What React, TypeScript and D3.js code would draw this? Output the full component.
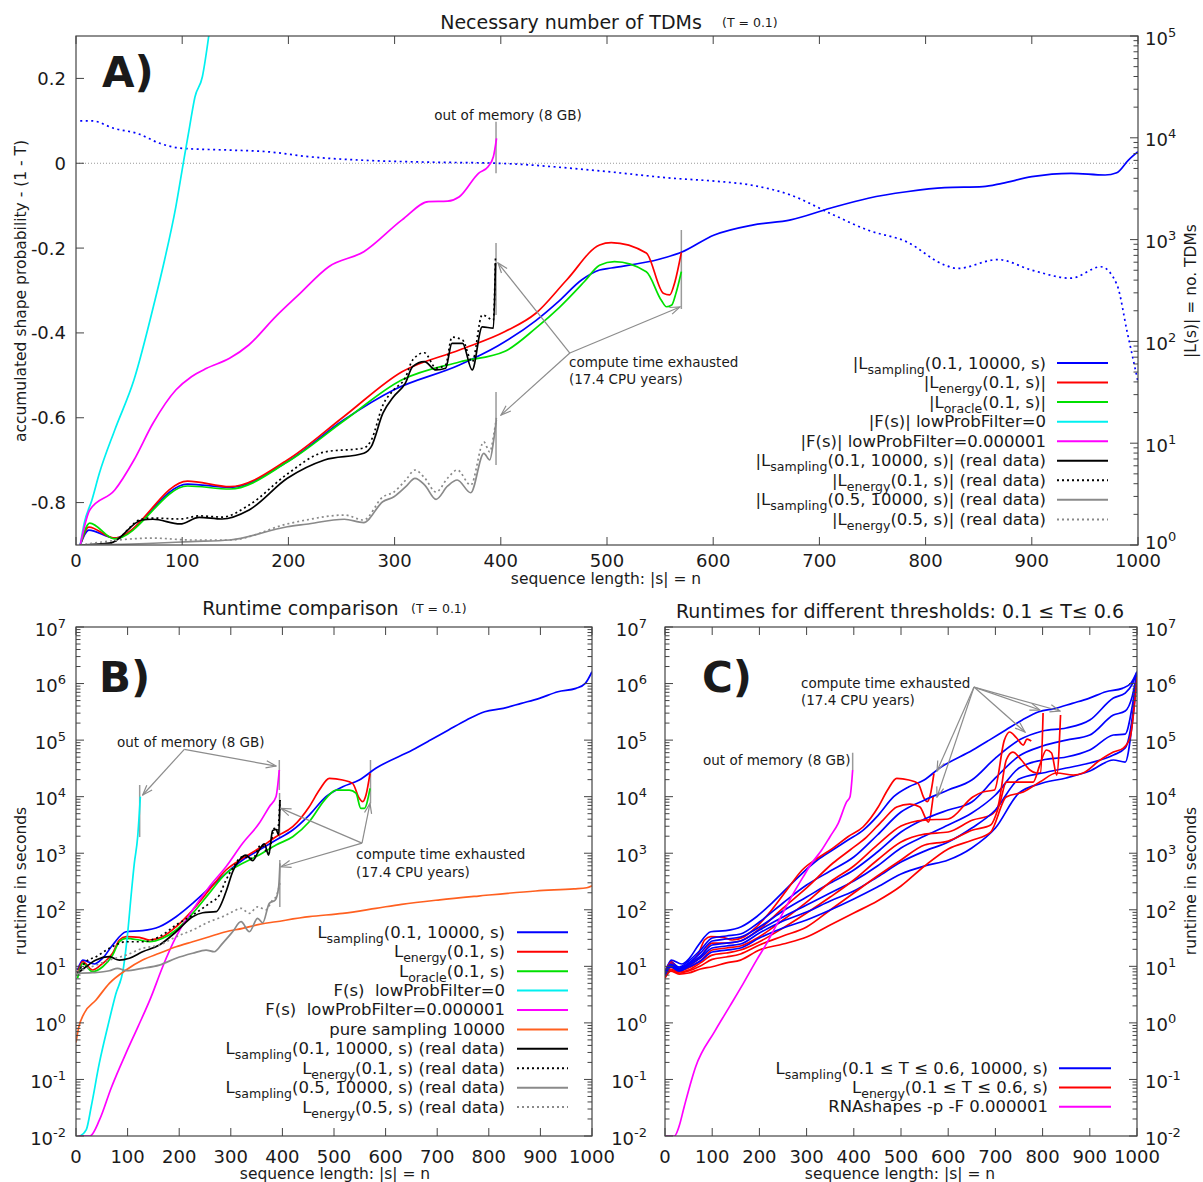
import React, { useEffect, useRef } from "react";
import * as d3 from "d3";

type Pt = [number, number];

// ---------------- A) Necessary number of TDMs (T = 0.1) ----------------
// |L(s)| on the right (log) axis, x = sequence length
const aSampling: Pt[] = [[4, 1], [12, 1.4], [36, 1.17], [105, 3.97], [145, 3.69], [199, 6.58], [252, 16.9], [299, 33.3], [361, 58.6], [397, 90], [433, 160], [455, 250], [476, 401], [493, 503], [504, 526], [550, 645], [570, 750], [601, 1110], [637, 1390], [673, 1560], [710, 2030], [746, 2550], [782, 2950], [818, 3240], [854, 3310], [872, 3570], [900, 4150], [937, 4480], [969, 4310], [980, 4540], [991, 6050], [1000, 7300]];
const aEnergy: Pt[] = [[4, 1], [12, 1.5], [36, 1.17], [105, 4.25], [145, 3.74], [199, 6.84], [252, 18.2], [307, 50.4], [361, 82.3], [404, 125], [433, 189], [462, 401], [493, 885], [504, 933], [537, 738], [553, 297], [559, 286], [564, 386], [570, 750]];
const aOracle: Pt[] = [[4, 1], [13, 1.64], [36, 1.15], [105, 3.8], [145, 3.55], [199, 6.53], [252, 16.5], [307, 41.9], [361, 62.8], [404, 80], [433, 135], [455, 215], [479, 390], [493, 560], [507, 607], [537, 484], [551, 255], [556, 219], [561, 228], [565, 299], [570, 484]];
const aFilter0: Pt[] = [[4, 1], [7.7, 1.63], [15, 2.77], [22, 5.06], [36.5, 13.5], [54.6, 41.9], [74.4, 255], [83.4, 631], [94, 2100], [101, 5620], [107, 12900], [112, 25200], [119, 39800], [125, 100000]];
const aFilterLow: Pt[] = [[4, 1], [13, 2.21], [36.5, 3.47], [54.6, 6.84], [72.5, 15.7], [94, 33.3], [108.7, 45], [123, 54.4], [144.6, 68.2], [162.7, 92.2], [188, 175], [209.5, 286], [238, 542], [271, 760], [307, 1560], [332, 2360], [350, 2390], [361, 2640], [379, 4480], [388, 5200], [393, 6520], [396, 9890]];
const aSamplingReal: Pt[] = [[4, 1], [33, 1.05], [62, 1.76], [72.5, 1.79], [98, 1.61], [116, 1.87], [137.5, 1.8], [163, 2.21], [199, 4.52], [234, 6.84], [271, 7.96], [278, 9.25], [289, 19.7], [299, 28.6], [310, 38.7], [317, 56.4], [328, 63.2], [339, 52.4], [348, 54.4], [354, 95.7], [364, 95.7], [373, 52.4], [382.5, 139], [393, 135], [395, 589]];
const aEnergyReal: Pt[] = [[4, 1], [33, 1.05], [62, 1.8], [72.5, 1.84], [98, 1.8], [116, 1.93], [137.5, 1.88], [163, 2.47], [199, 4.98], [234, 8.2], [271, 8.97], [278, 10.7], [289, 23.7], [299, 33.3], [310, 43.7], [317, 65.6], [328, 77.4], [339, 54.8], [348, 58.6], [354, 110], [364, 103], [373, 62.8], [382.5, 182], [393, 162], [395, 675]];
const aSampling05Real: Pt[] = [[4, 1], [72.5, 1.04], [108, 1.08], [144.6, 1.12], [199, 1.51], [216.6, 1.6], [252.7, 1.79], [270.8, 1.66], [288.8, 2.66], [299.4, 2.98], [310.5, 3.74], [319.2, 4.52], [328.4, 3.88], [339, 2.81], [350, 3.8], [359, 4.35], [371.7, 3.26], [384, 7.96], [389.6, 6.84], [393.3, 10.7], [395.8, 16.9]];
const aEnergy05Real: Pt[] = [[4, 1], [72.5, 1.17], [108, 1.12], [144.6, 1.12], [199, 1.61], [216.6, 1.76], [252.7, 1.97], [270.8, 1.76], [288.8, 2.96], [299.4, 3.32], [310.5, 4.35], [319.2, 5.45], [328.4, 4.55], [339, 3.32], [350, 4.55], [359, 5.45], [371.7, 3.88], [384, 10.3], [389.6, 8.2], [393.3, 12.0], [395.8, 17.7]];
// accumulated shape probability - (1 - T), left axis
const aProbability: Pt[] = [[4, 0.1], [15, 0.1], [36, 0.082], [58, 0.07], [80, 0.046], [101, 0.035], [145, 0.031], [181, 0.027], [217, 0.016], [271, 0.007], [325, 0.003], [397, 0], [493, -0.018], [565, -0.036], [601, -0.042], [637, -0.052], [673, -0.075], [710, -0.118], [746, -0.158], [782, -0.185], [818, -0.24], [830, -0.248], [868, -0.227], [900, -0.252], [937, -0.271], [965, -0.244], [980, -0.285], [990, -0.4], [1000, -0.515]];

// ---------------- B) Runtime comparison (T = 0.1), seconds ----------------
const bSampling: Pt[] = [[3, 8.61], [13, 12.9], [35.5, 11.0], [51.7, 13.9], [71, 23.8], [97, 40.9], [129, 42.7], [161.5, 50.1], [194, 75.4], [226, 130], [258, 239], [290.7, 442], [323, 759], [355, 1140], [387.6, 1710], [420, 2570], [452, 4730], [484.5, 10000], [516.8, 15000], [549, 19700], [581, 31700], [652, 66800], [687, 100000], [722, 151000], [757, 227000], [792, 318000], [828, 365000], [863, 447000], [898, 548000], [934, 717000], [969, 822000], [987, 1010000], [1000, 1620000]];
const bEnergy: Pt[] = [[3, 7.53], [13, 12.1], [32, 8.61], [51.7, 11.3], [71, 17.0], [84, 29.2], [97, 33.4], [122.7, 32.6], [142, 29.2], [168, 33.4], [194, 50.1], [226, 99.1], [258, 223], [290.7, 505], [323, 813], [355, 1220], [387.6, 1960], [420, 2940], [452, 6640], [471.6, 13100], [491, 21100], [516.8, 19700], [536, 17200], [549, 9350], [555.6, 8150], [562, 10700], [569.8, 25900]];
const bOracle: Pt[] = [[3, 6.14], [13, 11.3], [32, 8.04], [51.7, 9.84], [71, 15.8], [84, 27.2], [97, 31.3], [122.7, 29.2], [142, 27.2], [168, 31.3], [194, 43.9], [226, 86.5], [258, 195], [290.7, 442], [323, 662], [355, 929], [387.6, 1400], [420, 1960], [452, 3610], [484.5, 9350], [504, 13100], [529.7, 13100], [542.6, 11500], [552, 6220], [558.8, 6220], [569.8, 14000]];
const bFilter0: Pt[] = [[8, 0.01], [20, 0.013], [30, 0.035], [45, 0.19], [62, 0.9], [77, 3.2], [92, 9.5], [100, 38], [106.6, 170], [113, 660], [119.5, 1950], [122.7, 5070], [124.7, 10000]];
const bFilterLow: Pt[] = [[4.8, 0.01], [27, 0.01], [45.5, 0.0192], [68, 0.07], [97.5, 0.3], [120, 0.85], [145, 2.8], [168, 9.84], [194, 33.4], [226, 99], [258.4, 256], [290.7, 578], [323, 1500], [355, 3380], [374.7, 6650], [387.6, 10000], [394, 29600]];
const bPureSampling: Pt[] = [[0, 0.45], [4.8, 0.8], [15.9, 1.48], [38.8, 2.54], [64.6, 5.01], [97, 8.61], [129, 12.9], [161.5, 17.0], [194, 22.2], [226, 27.2], [258.4, 33.4], [290.7, 40.9], [323, 47], [355, 55.3], [387.6, 61.5], [452, 75.4], [516.8, 86.5], [581, 106], [631, 125], [705, 150], [780, 175], [891, 215], [965, 235], [990, 245], [1000, 265]];
const bSamplingReal: Pt[] = [[3, 7.53], [19.4, 9.84], [38.8, 12.9], [64.6, 14.8], [84, 12.9], [103.4, 13.9], [129, 18.1], [161.5, 23.8], [194, 40.9], [226, 75.4], [245.5, 88.7], [271.3, 92.5], [290.7, 208], [303.6, 471], [316.5, 759], [329.5, 929], [342.4, 737], [355, 1140], [365, 1460], [373.4, 929], [381, 2500], [387.6, 2650], [392.8, 2100], [395.3, 8730]];
const bEnergyReal: Pt[] = [[3, 7.6], [19.4, 12.1], [38.8, 14.8], [64.6, 20.8], [97, 27.2], [129, 27.2], [161.5, 33.4], [194, 53.8], [226, 80.7], [258.4, 130], [277.8, 182], [290.7, 336], [303.6, 541], [323, 867], [342.4, 813], [358.5, 1400], [373.4, 995], [384.4, 2760], [390.8, 2500], [395.3, 8730]];
const bSampling05Real: Pt[] = [[3, 7.53], [32, 7.71], [64.6, 8.37], [80.7, 9.23], [97, 8.37], [129, 9.23], [161.5, 10.5], [194, 13.9], [226, 17.0], [252, 19.4], [268, 18.1], [284, 25.5], [303.6, 40.9], [319.8, 61.5], [336, 40.9], [352, 70.6], [361.8, 59], [374.7, 130], [386.3, 149], [392.8, 256], [395.3, 662]];
const bEnergy05Real: Pt[] = [[3, 8.04], [38.8, 10.5], [64.6, 12.9], [97, 15.8], [129, 20.8], [161.5, 23.8], [194, 33.4], [226, 43.9], [258.4, 61.5], [284, 75.4], [303.6, 92.5], [319.8, 106], [336, 86.5], [352, 113], [368, 100], [381, 149], [387.6, 170], [395.3, 294]];

// ---------------- C) Runtimes for 0.1 <= T <= 0.6 ----------------
// T = 0.1 curves are the same runs as in B (bSampling, bEnergy)
const cX = [0, 12, 30, 50, 75, 100, 130, 160, 200, 250, 300, 350, 400, 450, 500, 550, 600, 650, 700, 750, 800, 850, 900, 950, 975, 990, 1000];
const cSampling02 = [7.94, 11.9, 9.73, 12.4, 19.4, 31.7, 34.4, 37.3, 60.8, 132, 274, 484, 857, 2100, 5350, 8730, 13100, 19700, 48200, 100000, 145000, 164000, 226000, 555000, 680000, 980000, 1600000];
const cSampling03 = [7.62, 11.0, 9.33, 11.5, 17.2, 28.1, 30.4, 33, 49.6, 95, 168, 297, 505, 1050, 2370, 4030, 5810, 8040, 21400, 52300, 78500, 100000, 123000, 277000, 327000, 600000, 1550000];
const cSampling04 = [7.31, 10.5, 8.97, 11.0, 15.2, 23.8, 25.8, 28.1, 43.9, 74.5, 121, 198, 323, 594, 1240, 2010, 3150, 5140, 10700, 32100, 44500, 50200, 66800, 123000, 128000, 400000, 1500000];
const cSampling05 = [7.03, 10.1, 8.61, 10.5, 14.0, 21.1, 22.9, 24.8, 38.8, 63.2, 91.2, 143, 215, 380, 698, 1090, 1580, 2790, 5810, 20500, 26200, 32100, 39400, 54500, 72400, 250000, 1450000];
const cSampling06 = [6.75, 9.73, 8.26, 9.73, 12.4, 17.9, 19.4, 21.1, 31.7, 47.6, 65.9, 99, 155, 252, 429, 594, 759, 1240, 2790, 11600, 17400, 21400, 28400, 44500, 40900, 200000, 1400000];
const cEnergy02: Pt[] = [[0, 7.31], [12, 11.5], [30, 8.61], [50, 10.1], [75, 14.6], [100, 25.8], [130, 25.8], [160, 28.1], [200, 45.7], [250, 107], [300, 243], [356, 671], [392, 1140], [427, 1930], [462, 3860], [491, 6560], [519, 7410], [540, 6560], [558, 3560], [568, 9860]];
const cEnergy03: Pt[] = [[0, 7.03], [12, 9.73], [30, 8.26], [50, 9.33], [75, 12.4], [100, 19.4], [130, 21.1], [160, 22.9], [200, 33.4], [250, 65.9], [300, 137], [350, 310], [400, 594], [450, 1400], [500, 3030], [550, 3860], [600, 4030], [652, 9860], [673, 12100], [698, 13100], [719, 100000], [730, 139000], [745, 109000], [759, 81800], [767, 104000], [776, 96300]];
const cEnergy04: Pt[] = [[0, 6.75], [12, 8.97], [30, 7.94], [50, 8.61], [75, 11.5], [100, 15.8], [130, 17.2], [160, 19.4], [200, 27.2], [250, 47.6], [300, 87.7], [350, 168], [400, 336], [450, 759], [500, 1580], [550, 2180], [600, 2370], [652, 3860], [690, 4730], [705, 6560], [723, 44500], [737, 61500], [755, 44500], [773, 29600], [787, 26200], [796, 26200], [801, 301000]];
const cEnergy05: Pt[] = [[0, 6.47], [12, 8.61], [30, 7.62], [50, 8.26], [75, 10.1], [100, 13.3], [130, 14.6], [160, 16.5], [200, 23.8], [250, 34.4], [300, 49.6], [350, 99], [400, 198], [450, 395], [500, 759], [550, 1400], [600, 1640], [652, 2570], [690, 3150], [710, 8000], [723, 18100], [759, 18100], [780, 18100], [794, 36200], [808, 66800], [819, 59100], [830, 24100], [838, 277000]];
const cEnergy06: Pt[] = [[0, 6.22], [12, 8.26], [30, 7.31], [50, 7.62], [75, 8.97], [100, 9.84], [130, 11.5], [160, 12.9], [200, 19.4], [250, 24.8], [300, 33], [350, 53.8], [400, 87.7], [450, 143], [500, 263], [550, 594], [600, 1190], [652, 1710], [690, 2370], [723, 9860], [759, 12100], [794, 18100], [830, 26200], [865, 24100], [886, 26200], [922, 44500], [950, 61500], [971, 72400], [985, 109000], [1000, 1300000]];
const cShapes: Pt[] = [[0, 0.01], [20, 0.01], [30, 0.015], [40.7, 0.033], [65, 0.168], [105, 0.7], [137.7, 2.0], [166, 5.0], [194, 12.9], [215.5, 25.5], [243.6, 70.6], [272, 195], [293, 385], [310, 650], [332, 1140], [349.6, 1960], [367, 3380], [385, 8150], [392, 10000], [397.6, 29600]];

// ---------------- ticks, legends, annotations ----------------
const lengthTicks = [0, 100, 200, 300, 400, 500, 600, 700, 800, 900, 1000];
const probTicks = [-0.8, -0.6, -0.4, -0.2, 0, 0.2];
const probLabels = ["-0.8", "-0.6", "-0.4", "-0.2", "0", "0.2"];
const countDecades = [0, 1, 2, 3, 4, 5];
const timeDecades = [-2, -1, 0, 1, 2, 3, 4, 5, 6, 7];

const legendA = ["|L_{sampling}(0.1, 10000, s)", "|L_{energy}(0.1, s)|", "|L_{oracle}(0.1, s)|", "|F(s)| lowProbFilter=0", "|F(s)| lowProbFilter=0.000001", "|L_{sampling}(0.1, 10000, s)| (real data)", "|L_{energy}(0.1, s)| (real data)", "|L_{sampling}(0.5, 10000, s)| (real data)", "|L_{energy}(0.5, s)| (real data)"];
const legendB = ["L_{sampling}(0.1, 10000, s)", "L_{energy}(0.1, s)", "L_{oracle}(0.1, s)", "F(s)  lowProbFilter=0", "F(s)  lowProbFilter=0.000001", "pure sampling 10000", "L_{sampling}(0.1, 10000, s) (real data)", "L_{energy}(0.1, s) (real data)", "L_{sampling}(0.5, 10000, s) (real data)", "L_{energy}(0.5, s) (real data)"];
const legendC = ["L_{sampling}(0.1 ≤ T ≤ 0.6, 10000, s)", "L_{energy}(0.1 ≤ T ≤ 0.6, s)", "RNAshapes -p -F 0.000001"];

// gray end markers [x, low, high] and arrows (data coordinates)
const aMarks: [number, number, number][] = [[395.5, 4480, 14400], [395.5, 182, 926], [395.5, 6.1, 31.8], [570, 208, 1243]];
const aTimeFrom: Pt = [465, 76.9];
const aTimeTo: Pt[] = [[397.4, 589], [400.2, 18.9], [568.7, 218]];
const bMarks: [number, number, number][] = [[123.4, 1930, 16100], [394, 13100, 44500], [394.5, 1860, 11600], [395, 112, 759], [570.7, 7620, 44500]];
const bMemFrom: Pt = [209.9, 68700];
const bMemTo: Pt[] = [[129.3, 10700], [387.6, 34800]];
const bTimeFrom: Pt = [554.3, 1510];
const bTimeTo: Pt[] = [[397.3, 6220], [397.3, 577], [569.8, 7620]];
const cMarks: [number, number, number][] = [[397.6, 29600, 59800]];
const cTimeFrom: Pt = [654.7, 867000];
const cTimeTo: Pt[] = [[576.3, 28400], [576.3, 9860], [762.7, 139000], [794.5, 340000], [836.9, 327000]];

const FONT = "DejaVu Sans, sans-serif";
const INK = "#1a1a1a";
const FRAME = "#444";
const BLUE = "#0000ff", RED = "#ff0000", GREEN = "#00e000", CYAN = "#00f0f0", MAGENTA = "#ff00ff";
const ORANGE = "#ff6020", BLACK = "#000000", GRAY = "#8a8a8a", NOTE = "#8c8c8c";
const DOTS = "2,3";
const LW = 1.7;

const zip = (xs: number[], ys: number[]): Pt[] => xs.map((x, i) => [x, ys[i]] as Pt);

export default function App() {
  const ref = useRef<SVGSVGElement>(null);

  useEffect(() => {
    document.body.style.margin = "0";
    const svg = d3.select(ref.current);
    svg.selectAll("*").remove();

    const defs = svg.append("defs");
    defs.append("marker").attr("id", "ah").attr("viewBox", "-11 -5 12 10")
      .attr("refX", 0).attr("refY", 0).attr("markerWidth", 12).attr("markerHeight", 10)
      .attr("markerUnits", "userSpaceOnUse").attr("orient", "auto")
      .append("path").attr("d", "M-10,-3.6 L0,0 L-10,3.6").attr("fill", "none")
      .attr("stroke", NOTE).attr("stroke-width", 1.2);

    const text = (g: any, x: number, y: number, s: string, size: number, anchor = "start") =>
      g.append("text").attr("x", x).attr("y", y).attr("font-family", FONT).attr("font-size", size)
        .attr("fill", INK).attr("text-anchor", anchor).style("white-space", "pre").text(s);

    const rich = (g: any, x: number, y: number, s: string, size: number, anchor: string) => {
      const t = g.append("text").attr("x", x).attr("y", y).attr("font-family", FONT).attr("font-size", size)
        .attr("fill", INK).attr("text-anchor", anchor).style("white-space", "pre");
      let down = false;
      s.split(/(_\{[^}]*\})/).forEach(part => {
        if (!part) return;
        if (part.startsWith("_{")) {
          t.append("tspan").attr("dy", 5).attr("font-size", size * 0.76).text(part.slice(2, -1));
          down = true;
        } else {
          const ts = t.append("tspan").text(part);
          if (down) { ts.attr("dy", -5); down = false; }
        }
      });
    };

    const pow = (g: any, x: number, y: number, e: number, anchor: string) => {
      const t = g.append("text").attr("x", x).attr("y", y).attr("font-family", FONT).attr("font-size", 18)
        .attr("fill", INK).attr("text-anchor", anchor);
      t.append("tspan").text("10");
      t.append("tspan").attr("dy", -8).attr("font-size", 13).text(String(e));
    };

    const tick = (g: any, x1: number, y1: number, x2: number, y2: number) =>
      g.append("line").attr("x1", x1).attr("y1", y1).attr("x2", x2).attr("y2", y2)
        .attr("stroke", FRAME).attr("stroke-width", 1);

    const xAxis = (g: any, x: any, top: number, bottom: number, labelY: number) => {
      lengthTicks.forEach(v => {
        tick(g, x(v), bottom, x(v), bottom - 8);
        tick(g, x(v), top, x(v), top + 8);
        text(g, x(v), labelY, String(v), 18, "middle");
      });
    };

    const logAxis = (g: any, y: any, ax: number, dir: number, decades: number[], labelX: number | null, anchor: string, lift0 = 0) => {
      decades.forEach((k, i) => {
        const py = y(Math.pow(10, k));
        tick(g, ax, py, ax + 8 * dir, py);
        if (i < decades.length - 1) {
          for (let m = 2; m <= 9; m++) {
            const pm = y(m * Math.pow(10, k));
            tick(g, ax, pm, ax + 4.5 * dir, pm);
          }
        }
        if (labelX !== null) pow(g, labelX, py + 8.5 - (i === 0 ? lift0 : 0), k, anchor);
      });
    };

    const series = (g: any, data: Pt[], x: any, y: any, color: string, dash: string | null = null, w = LW) => {
      const line = d3.line<Pt>().x(d => x(d[0])).y(d => y(d[1])).curve(d3.curveMonotoneX);
      g.append("path").datum(data).attr("d", line).attr("fill", "none").attr("stroke", color)
        .attr("stroke-width", w).attr("stroke-dasharray", dash).attr("stroke-linejoin", "round");
    };

    const marks = (g: any, list: [number, number, number][], x: any, y: any) => {
      list.forEach(([v, lo, hi]) => {
        g.append("line").attr("x1", x(v)).attr("x2", x(v)).attr("y1", y(lo)).attr("y2", y(hi))
          .attr("stroke", "#9a9a9a").attr("stroke-width", 1.5);
      });
    };

    const arrows = (g: any, from: Pt, to: Pt[], x: any, y: any) => {
      to.forEach(p => {
        g.append("line").attr("x1", x(from[0])).attr("y1", y(from[1])).attr("x2", x(p[0])).attr("y2", y(p[1]))
          .attr("stroke", NOTE).attr("stroke-width", 1.2).attr("marker-end", "url(#ah)");
      });
    };

    const legend = (g: any, items: string[], styles: [string, string | null][], textRight: number, x1: number, x2: number, y0: number, step: number, size: number) => {
      items.forEach((s, i) => {
        const cy = y0 + i * step;
        rich(g, textRight, cy + 5.5, s, size, "end");
        g.append("line").attr("x1", x1).attr("x2", x2).attr("y1", cy).attr("y2", cy)
          .attr("stroke", styles[i][0]).attr("stroke-width", 2).attr("stroke-dasharray", styles[i][1]);
      });
    };

    const frame = (g: any, p: { l: number; r: number; t: number; b: number }) =>
      g.append("rect").attr("x", p.l).attr("y", p.t).attr("width", p.r - p.l).attr("height", p.b - p.t)
        .attr("fill", "none").attr("stroke", FRAME).attr("stroke-width", 1.2);

    const clip = (id: string, p: { l: number; r: number; t: number; b: number }) =>
      defs.append("clipPath").attr("id", id).append("rect")
        .attr("x", p.l).attr("y", p.t).attr("width", p.r - p.l).attr("height", p.b - p.t);

    // ================= Panel A =================
    const PA = { l: 76, r: 1138, t: 36, b: 545 };
    const xA = d3.scaleLinear().domain([0, 1000]).range([PA.l, PA.r]);
    const yAL = d3.scaleLinear().domain([-0.9, 0.3]).range([PA.b, PA.t]);
    const yAR = d3.scaleLog().domain([1, 1e5]).range([PA.b, PA.t]);
    clip("clipA", PA);
    const gA = svg.append("g");
    const cA = gA.append("g").attr("clip-path", "url(#clipA)");

    cA.append("line").attr("x1", PA.l).attr("x2", PA.r).attr("y1", yAL(0)).attr("y2", yAL(0))
      .attr("stroke", "#999").attr("stroke-width", 1).attr("stroke-dasharray", "1,2");
    marks(cA, aMarks, xA, yAR);
    series(cA, aProbability, xA, yAL, BLUE, "2,3.5");
    series(cA, aSampling, xA, yAR, BLUE);
    series(cA, aEnergy, xA, yAR, RED);
    series(cA, aOracle, xA, yAR, GREEN);
    series(cA, aFilter0, xA, yAR, CYAN);
    series(cA, aFilterLow, xA, yAR, MAGENTA);
    series(cA, aSamplingReal, xA, yAR, BLACK);
    series(cA, aEnergyReal, xA, yAR, BLACK, DOTS);
    series(cA, aSampling05Real, xA, yAR, GRAY);
    series(cA, aEnergy05Real, xA, yAR, GRAY, DOTS);
    arrows(gA, aTimeFrom, aTimeTo, xA, yAR);

    xAxis(gA, xA, PA.t, PA.b, 567);
    probTicks.forEach((v, i) => {
      tick(gA, PA.l, yAL(v), PA.l + 8, yAL(v));
      text(gA, 66, yAL(v) + 6.5, probLabels[i], 18, "end");
    });
    logAxis(gA, yAR, PA.r, -1, countDecades, 1145, "start", 5);
    frame(gA, PA);

    text(gA, 571, 28.5, "Necessary number of TDMs", 19, "middle");
    text(gA, 722, 27, "(T = 0.1)", 12.5);
    text(gA, 606, 584, "sequence length: |s| = n", 15.5, "middle");
    text(gA, 0, 0, "accumulated shape probability - (1 - T)", 15.5, "middle")
      .attr("transform", "translate(25.5,291) rotate(-90)");
    text(gA, 0, 0, "|L(s)| = no. TDMs", 15.5, "middle")
      .attr("transform", "translate(1195.5,291) rotate(-90)");
    text(gA, 102, 87, "A)", 42).attr("font-weight", "bold");
    text(gA, 508, 120, "out of memory (8 GB)", 13.5, "middle");
    text(gA, 569, 367, "compute time exhausted", 13.5);
    text(gA, 569, 384, "(17.4 CPU years)", 13.5);
    legend(gA, legendA,
      [[BLUE, null], [RED, null], [GREEN, null], [CYAN, null], [MAGENTA, null], [BLACK, null], [BLACK, DOTS], [GRAY, null], [GRAY, DOTS]],
      1046, 1057, 1108, 363, 19.55, 16.5);

    // ================= Panel B =================
    const PB = { l: 76, r: 592, t: 627, b: 1136 };
    const xB = d3.scaleLinear().domain([0, 1000]).range([PB.l, PB.r]);
    const yB = d3.scaleLog().domain([0.01, 1e7]).range([PB.b, PB.t]);
    clip("clipB", PB);
    const gB = svg.append("g");
    const cB = gB.append("g").attr("clip-path", "url(#clipB)");
    marks(cB, bMarks, xB, yB);
    series(cB, bSampling, xB, yB, BLUE);
    series(cB, bEnergy, xB, yB, RED);
    series(cB, bOracle, xB, yB, GREEN);
    series(cB, bFilter0, xB, yB, CYAN);
    series(cB, bFilterLow, xB, yB, MAGENTA);
    series(cB, bPureSampling, xB, yB, ORANGE);
    series(cB, bSamplingReal, xB, yB, BLACK);
    series(cB, bEnergyReal, xB, yB, BLACK, DOTS);
    series(cB, bSampling05Real, xB, yB, GRAY);
    series(cB, bEnergy05Real, xB, yB, GRAY, DOTS);
    arrows(gB, bMemFrom, bMemTo, xB, yB);
    arrows(gB, bTimeFrom, bTimeTo, xB, yB);

    xAxis(gB, xB, PB.t, PB.b, 1163);
    logAxis(gB, yB, PB.l, 1, timeDecades, 66, "end");
    logAxis(gB, yB, PB.r, -1, timeDecades, null, "start");
    frame(gB, PB);

    text(gB, 300.5, 615, "Runtime comparison", 19, "middle");
    text(gB, 411, 613, "(T = 0.1)", 12.5);
    text(gB, 335, 1179, "sequence length: |s| = n", 15.5, "middle");
    text(gB, 0, 0, "runtime in seconds", 15.5, "middle")
      .attr("transform", "translate(25.5,881) rotate(-90)");
    text(gB, 99, 692, "B)", 42).attr("font-weight", "bold");
    text(gB, 117, 746.5, "out of memory (8 GB)", 13.5);
    text(gB, 356, 859, "compute time exhausted", 13.5);
    text(gB, 356, 876.5, "(17.4 CPU years)", 13.5);
    legend(gB, legendB,
      [[BLUE, null], [RED, null], [GREEN, null], [CYAN, null], [MAGENTA, null], [ORANGE, null], [BLACK, null], [BLACK, DOTS], [GRAY, null], [GRAY, DOTS]],
      505, 517, 568, 932.3, 19.42, 16.5);

    // ================= Panel C =================
    const PC = { l: 665, r: 1137, t: 627, b: 1136 };
    const xC = d3.scaleLinear().domain([0, 1000]).range([PC.l, PC.r]);
    const yC = d3.scaleLog().domain([0.01, 1e7]).range([PC.b, PC.t]);
    clip("clipC", PC);
    const gC = svg.append("g");
    const cC = gC.append("g").attr("clip-path", "url(#clipC)");
    marks(cC, cMarks, xC, yC);
    const cBlue = [bSampling, zip(cX, cSampling02), zip(cX, cSampling03), zip(cX, cSampling04), zip(cX, cSampling05), zip(cX, cSampling06)];
    const cRed = [bEnergy, cEnergy02, cEnergy03, cEnergy04, cEnergy05, cEnergy06];
    cBlue.forEach((d, i) => {
      series(cC, d, xC, yC, BLUE);
      series(cC, cRed[i], xC, yC, RED);
    });
    series(cC, cShapes, xC, yC, MAGENTA);
    arrows(gC, cTimeFrom, cTimeTo, xC, yC);

    xAxis(gC, xC, PC.t, PC.b, 1163);
    logAxis(gC, yC, PC.l, 1, timeDecades, 647, "end");
    logAxis(gC, yC, PC.r, -1, timeDecades, 1145, "start");
    frame(gC, PC);

    text(gC, 900, 618, "Runtimes for different thresholds: 0.1 ≤ T≤ 0.6", 19, "middle");
    text(gC, 900, 1179, "sequence length: |s| = n", 15.5, "middle");
    text(gC, 0, 0, "runtime in seconds", 15.5, "middle")
      .attr("transform", "translate(1195.5,881) rotate(-90)");
    text(gC, 702, 692, "C)", 42).attr("font-weight", "bold");
    text(gC, 801, 688, "compute time exhausted", 13.5);
    text(gC, 801, 705, "(17.4 CPU years)", 13.5);
    text(gC, 703, 765, "out of memory (8 GB)", 13.5);
    legend(gC, legendC, [[BLUE, null], [RED, null], [MAGENTA, null]],
      1048, 1059, 1111, 1068.3, 19.2, 16.5);
  }, []);

  return <svg ref={ref} width={1203} height={1182} style={{ display: "block", background: "#fff" }} />;
}
